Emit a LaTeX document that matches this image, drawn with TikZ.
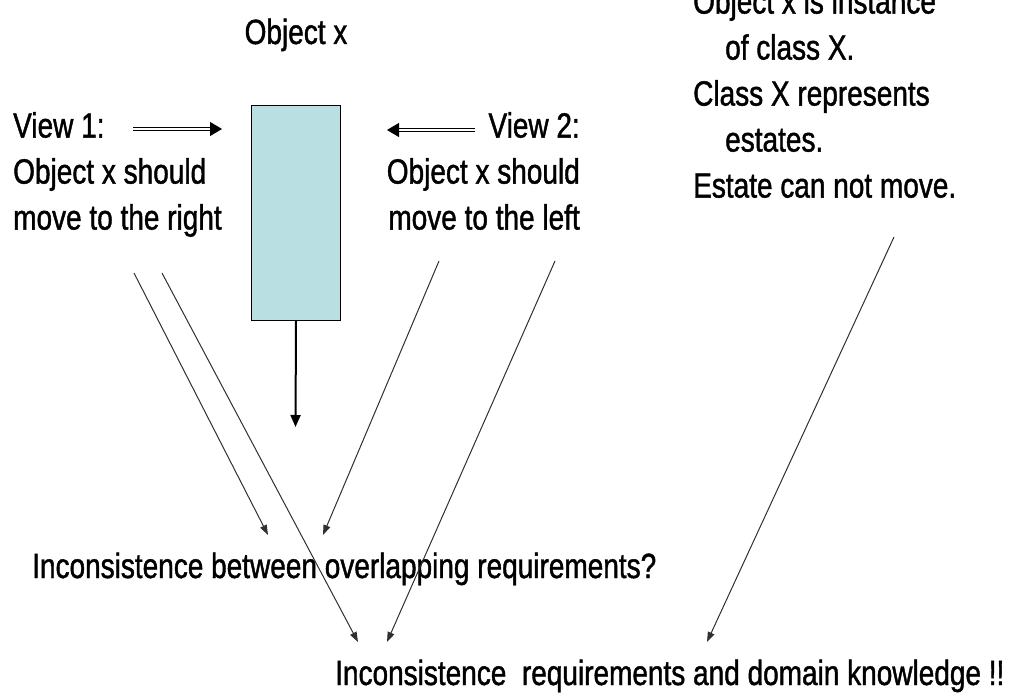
\documentclass[tikz,border=0pt]{standalone}
\usepackage{fontspec}
\setmainfont{Liberation Sans}[FakeStretch=0.8, FakeBold=1.2]
\usetikzlibrary{arrows.meta,positioning,calc}
\definecolor{boxfill}{HTML}{B9DFE2}
\definecolor{linegray}{HTML}{303030}

\begin{document}
\begin{tikzpicture}[
  x=1pt, y=-1pt,
  txt/.style={font=\fontsize{35}{46}\selectfont, inner sep=0pt},
  objbox/.style={draw, fill=boxfill, line width=1pt, inner sep=0pt,
    minimum width=89pt, minimum height=215pt},
  thinarrow/.style={-{Triangle[length=10pt,width=7pt]}, line width=1pt, color=linegray},
  downarrow/.style={-{Triangle[length=12pt,width=10pt]}, line width=2pt},
  dblarrow/.style={-{Triangle[length=12pt,width=14pt]}, double, double distance=2pt, line width=1pt}
]
  \useasboundingbox (0,0) rectangle (1022,698);
  \clip (0,0) rectangle (1022,698);
  % object and its views
  \node[objbox, anchor=north west] (objx) at (251,105) {};
  \node[txt, anchor=base] (title) at (296,44) {Object x};
  \node[txt, align=left, anchor=north west] (view1) at (13,112)
    {View 1:\\Object x should\\move to the right};
  \node[txt, align=right, anchor=north east] (view2) at (580,112)
    {View 2:\\Object x should\\move to the left};
  \node[txt, align=left, anchor=north west] (facts) at (693,-12)
    {Object x is instance\\\hspace*{32pt}of class X.\\Class X represents\\\hspace*{32pt}estates.\\Estate can not move.};
  % conclusions
  \node[txt, anchor=base west] (overlap) at (32,578)
    {Inconsistence between overlapping requirements?};
  \node[txt, anchor=base west] (domain) at (335,685)
    {Inconsistence\ \ requirements and domain knowledge !!};
  % free ends of the connectors
  \coordinate (r1) at (133,129);
  \coordinate (r2) at (222,129);
  \coordinate (l1) at (475,130);
  \coordinate (l2) at (387,130);
  \coordinate (down) at (295.5,427);
  \coordinate (a1) at (134,273);
  \coordinate (a2) at (268,535);
  \coordinate (b1) at (162,273);
  \coordinate (b2) at (358,642);
  \coordinate (c1) at (439,261);
  \coordinate (c2) at (323,535);
  \coordinate (d1) at (555,261);
  \coordinate (d2) at (387,642);
  \coordinate (e1) at (894,237);
  \coordinate (e2) at (707,642);
  \draw[dblarrow] (r1) -- (r2);
  \draw[dblarrow] (l1) -- (l2);
  \draw[downarrow] (objx.south) -- (down);
  \draw[thinarrow] (a1) -- (a2);
  \draw[thinarrow] (b1) -- (b2);
  \draw[thinarrow] (c1) -- (c2);
  \draw[thinarrow] (d1) -- (d2);
  \draw[thinarrow] (e1) -- (e2);
\end{tikzpicture}
\end{document}
